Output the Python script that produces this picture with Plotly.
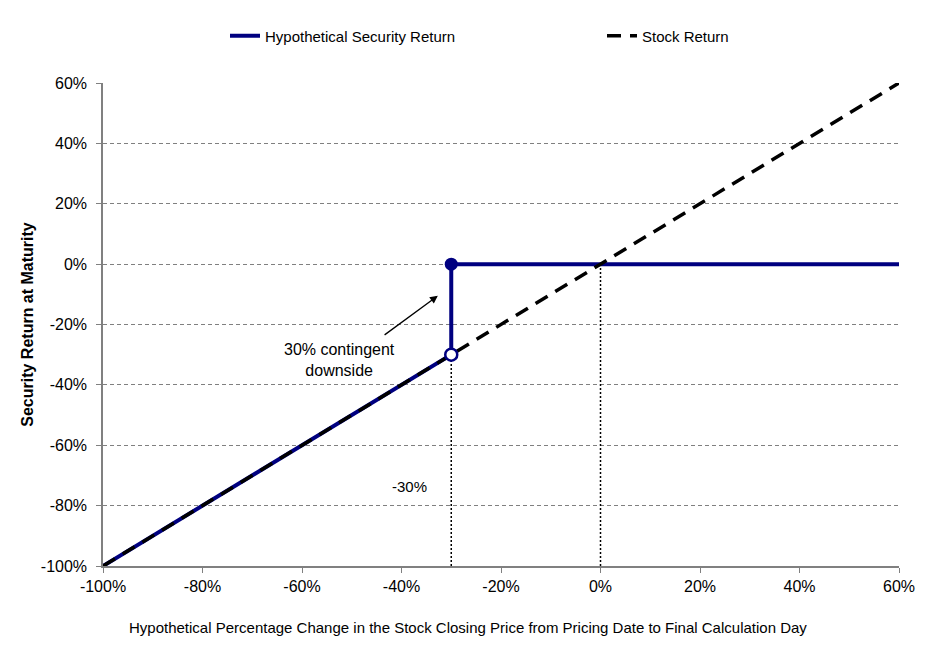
import plotly.graph_objects as go

# x/y in percent
stock_x = [-100, 60]
stock_y = [-100, 60]
security_x = [-100, -30, -30, 60]
security_y = [-100, -30, 0, 0]
tick_vals = [-100, -80, -60, -40, -20, 0, 20, 40, 60]
tick_text = ['%d%%' % v for v in tick_vals]

NAVY = '#000080'
FONT = 'Liberation Sans, Arial, sans-serif'

fig = go.Figure()

# vertical dotted guides at -30% and 0%
fig.add_trace(go.Scatter(x=[-30, -30], y=[-100, -30], mode='lines',
                         line=dict(color='black', width=1.5, dash='2px,2px'),
                         showlegend=False, hoverinfo='skip'))
fig.add_trace(go.Scatter(x=[0, 0], y=[-100, 0], mode='lines',
                         line=dict(color='black', width=1.5, dash='2px,2px'),
                         showlegend=False, hoverinfo='skip'))

fig.add_trace(go.Scatter(x=security_x, y=security_y, mode='lines',
                         line=dict(color=NAVY, width=4),
                         name='Hypothetical Security Return'))
fig.add_trace(go.Scatter(x=stock_x, y=stock_y, mode='lines',
                         line=dict(color='black', width=3.5, dash='14px,9px'),
                         name='Stock Return'))

# end markers of the jump
fig.add_trace(go.Scatter(x=[-30], y=[0], mode='markers',
                         marker=dict(color=NAVY, size=13),
                         showlegend=False, hoverinfo='skip'))
fig.add_trace(go.Scatter(x=[-30], y=[-30], mode='markers',
                         marker=dict(color='white', size=12, line=dict(color=NAVY, width=2.5)),
                         showlegend=False, hoverinfo='skip'))

fig.add_annotation(x=-32.7, y=-10.5, ax=-43.7, ay=-23.8, xref='x', yref='y',
                   axref='x', ayref='y', text='', showarrow=True,
                   arrowhead=2, arrowsize=1.2, arrowwidth=1.3, arrowcolor='black')
fig.add_annotation(x=-52.4, y=-31.7, text='30% contingent<br>downside', showarrow=False,
                   font=dict(size=16, color='black', family=FONT))
fig.add_annotation(x=-38.3, y=-73.8, text='-30%', showarrow=False,
                   font=dict(size=15, color='black', family=FONT))

# x title, centred on the page rather than the plot area
fig.add_annotation(x=-26.6, y=0, xref='x', yref='paper', yshift=-61, yanchor='middle',
                   text='Hypothetical Percentage Change in the Stock Closing Price from Pricing Date to Final Calculation Day',
                   showarrow=False, font=dict(size=15, color='black', family=FONT))

fig.update_layout(
    width=944, height=650,
    margin=dict(l=95, r=53, t=75, b=92),
    paper_bgcolor='white', plot_bgcolor='white',
    font=dict(family=FONT, size=16, color='black'),
    showlegend=True,
    legend=dict(orientation='h', xref='container', yref='container',
                x=217 / 944, xanchor='left', y=1 - 28 / 650, yanchor='middle',
                entrywidth=332, font=dict(size=15)),
)
fig.update_xaxes(range=[-100, 60], tickvals=tick_vals, ticktext=tick_text,
                 showgrid=False, zeroline=False, showline=True, linecolor='#808080',
                 linewidth=1.5, ticks='outside', ticklen=5, tickcolor='#808080')
fig.update_yaxes(range=[-100, 60], tickvals=tick_vals, ticktext=tick_text,
                 showgrid=True, gridcolor='#808080', griddash='4px,3px', gridwidth=1,
                 zeroline=False, showline=True, linecolor='#808080', linewidth=1.5,
                 ticks='outside', ticklen=5, tickcolor='#808080', ticklabelstandoff=6,
                 title=dict(text='<b>Security Return at Maturity</b>', font=dict(size=16), standoff=3))

fig.write_html('out.html')
